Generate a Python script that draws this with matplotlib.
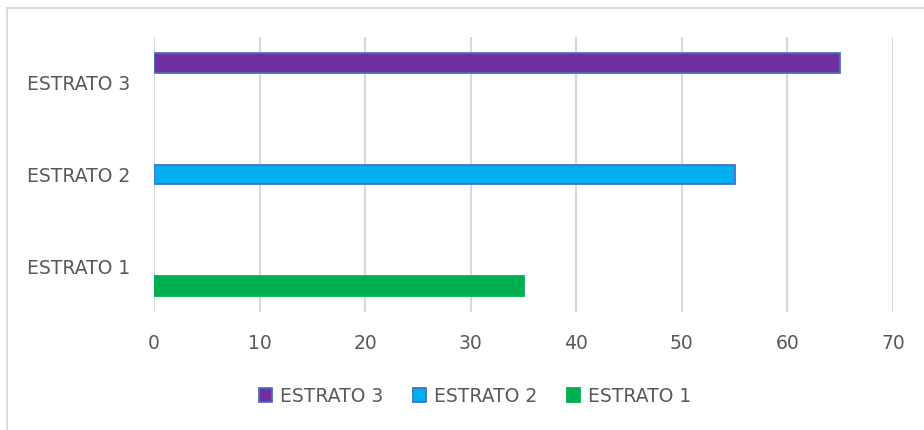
import matplotlib
matplotlib.use("Agg")
import matplotlib.pyplot as plt
from matplotlib.patches import Patch
from matplotlib.lines import Line2D
import numpy as np

categories = ["ESTRATO 1", "ESTRATO 2", "ESTRATO 3"]
series_names = ["ESTRATO 1", "ESTRATO 2", "ESTRATO 3"]
# values[series][category]
values = [
    [35, 0, 0],
    [0, 55, 0],
    [0, 0, 65],
]
colors = ["#00B050", "#00B0F0", "#7030A0"]
edges = ["#00B050", "#4472C4", "#4472C4"]
xticks = [0, 10, 20, 30, 40, 50, 60, 70]

W, H = 924, 430
fig = plt.figure(figsize=(W / 100, H / 100), dpi=100)
fig.patch.set_facecolor("white")
# chart frame (only left and top visible in the crop)
fig.add_artist(Line2D([7.5 / W, 7.5 / W], [0, 1 - 7.5 / H], transform=fig.transFigure,
                      color="#D9D9D9", linewidth=1.3))
fig.add_artist(Line2D([7.5 / W, 1], [1 - 7.5 / H, 1 - 7.5 / H], transform=fig.transFigure,
                      color="#D9D9D9", linewidth=1.3))

ax = fig.add_axes([154 / W, 1 - 312 / H, (893 - 154) / W, (312 - 37) / H])
y = np.arange(len(categories))
h = 0.215
for i, (name, vals) in enumerate(zip(series_names, values)):
    vals = np.array(vals, dtype=float)
    ec = [edges[i] if v > 0 else "none" for v in vals]
    ax.barh(y + (i - 1) * h, vals, height=h, color=colors[i], edgecolor=ec,
            linewidth=1.3, label=name, zorder=3)

ax.set_xlim(0, 70)
ax.set_ylim(-0.5, 2.5)
ax.set_xticks(xticks)
ax.set_yticks(y)
ax.set_yticklabels(categories)
for s in ax.spines.values():
    s.set_visible(False)
ax.grid(axis="x", color="#D9D9D9", linewidth=1.5, zorder=0)
ax.tick_params(axis="both", length=0, colors="#595959", labelsize=13.5)
ax.tick_params(axis="x", pad=16)
ax.tick_params(axis="y", pad=17)
for lab in ax.get_yticklabels():
    lab.set_horizontalalignment("right")

handles = [Patch(facecolor=colors[i], edgecolor=edges[i], linewidth=1.3) for i in [2, 1, 0]]
labels = [series_names[i] for i in [2, 1, 0]]
leg = fig.legend(handles, labels, loc="center", bbox_to_anchor=(475 / W, 1 - 396 / H),
                 ncol=3, frameon=False, fontsize=13.5, handlelength=0.7, handleheight=0.7,
                 handletextpad=0.4, columnspacing=1.6, labelcolor="#595959")

fig.savefig("out.png", dpi=100, facecolor="white")
